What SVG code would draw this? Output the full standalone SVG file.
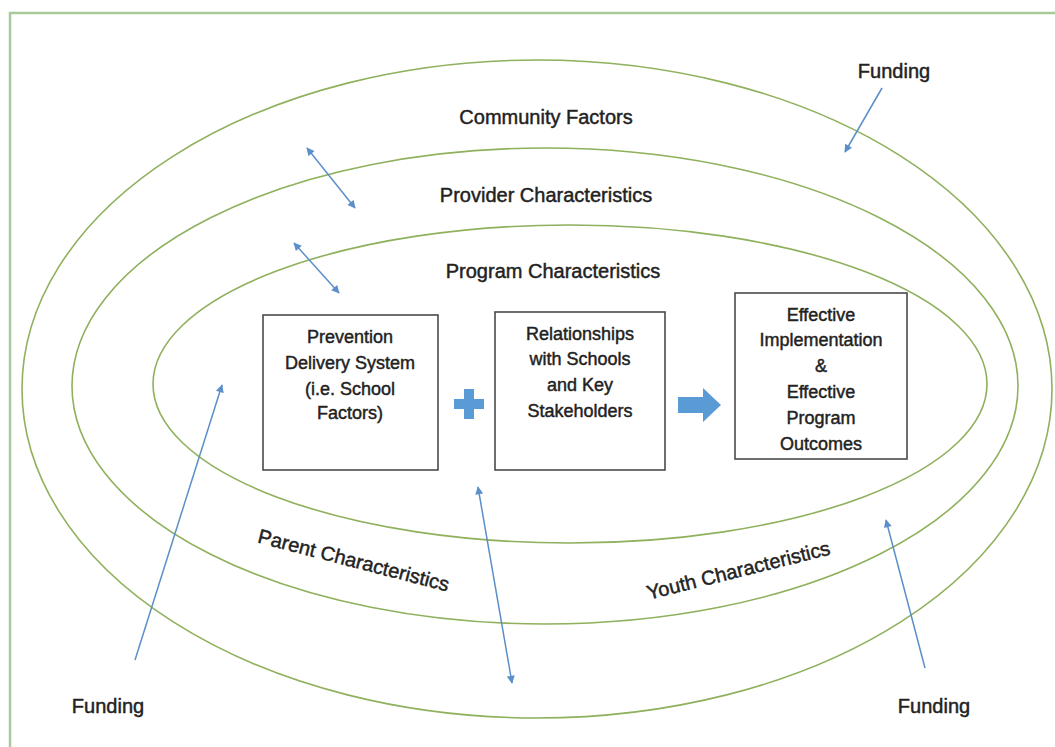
<svg xmlns="http://www.w3.org/2000/svg" width="1055" height="747" viewBox="0 0 1055 747">
<defs>
<style>
.ring{fill:none;stroke:#8fb05c;stroke-width:1.6}
.box{fill:#fff;stroke:#4a4a4a;stroke-width:1.6}
.lbl{font-family:"Liberation Sans",Arial,sans-serif;fill:#222;stroke:#222;stroke-width:0.45;text-anchor:middle}
.big{font-size:20px}
.bx{font-size:18px}
.conn{stroke:#5b8fc9;stroke-width:1.5;fill:none}
.blue{fill:#5b9bd5}
</style>
<marker id="ah" viewBox="0 0 10 10" refX="9" refY="5" markerWidth="9" markerHeight="8" orient="auto-start-reverse" markerUnits="userSpaceOnUse">
<path d="M0,0 L10,5 L0,10 z" fill="#5b8fc9"/>
</marker>
</defs>
<rect width="1055" height="747" fill="#fff"/>
<g id="frame">
<path d="M10,747 V13 H1055" fill="none" stroke="#a9c99b" stroke-width="2.5"/>
</g>
<g id="rings">
<ellipse id="community" class="ring" cx="537" cy="389" rx="515" ry="329"/>
<ellipse id="provider" class="ring" cx="545" cy="386" rx="473" ry="238"/>
<ellipse id="program" class="ring" cx="570" cy="384" rx="417" ry="159"/>
</g>
<g id="ring-labels">
<text class="lbl big" x="546" y="124">Community Factors</text>
<text class="lbl big" x="546" y="202">Provider Characteristics</text>
<text class="lbl big" x="553" y="278">Program Characteristics</text>
<text class="lbl big" transform="translate(352,567) rotate(14.5)">Parent Characteristics</text>
<text class="lbl big" transform="translate(740,577) rotate(-14)">Youth Characteristics</text>
</g>
<g id="funding-labels">
<text class="lbl big" x="894" y="78">Funding</text>
<text class="lbl big" x="108" y="713">Funding</text>
<text class="lbl big" x="934" y="713">Funding</text>
</g>
<g id="node-prevention">
<rect class="box" x="263" y="315" width="175" height="155"/>
<text class="lbl bx" x="350" y="343">Prevention</text>
<text class="lbl bx" x="350" y="369">Delivery System</text>
<text class="lbl bx" x="350" y="395">(i.e. School</text>
<text class="lbl bx" x="350" y="419">Factors)</text>
</g>
<g id="node-relationships">
<rect class="box" x="495" y="312" width="170" height="158"/>
<text class="lbl bx" x="580" y="340">Relationships</text>
<text class="lbl bx" x="580" y="365">with Schools</text>
<text class="lbl bx" x="580" y="391">and Key</text>
<text class="lbl bx" x="580" y="417">Stakeholders</text>
</g>
<g id="node-outcomes">
<rect class="box" x="735" y="293" width="172" height="166"/>
<text class="lbl bx" x="821" y="321">Effective</text>
<text class="lbl bx" x="821" y="346">Implementation</text>
<text class="lbl bx" x="821" y="372">&amp;</text>
<text class="lbl bx" x="821" y="398">Effective</text>
<text class="lbl bx" x="821" y="424">Program</text>
<text class="lbl bx" x="821" y="450">Outcomes</text>
</g>
<g id="operators">
<path class="blue" d="M464,389 h10 v10 h10 v10 h-10 v10 h-10 v-10 h-10 v-10 h10 z"/>
<path class="blue" d="M678,397 h25 v-9 l18,17 l-18,17 v-9 h-25 z"/>
</g>
<g id="connectors">
<line class="conn" x1="882" y1="88" x2="845" y2="152" marker-end="url(#ah)"/>
<line class="conn" x1="307" y1="148" x2="355" y2="208" marker-start="url(#ah)" marker-end="url(#ah)"/>
<line class="conn" x1="294" y1="243" x2="339" y2="293" marker-start="url(#ah)" marker-end="url(#ah)"/>
<line class="conn" x1="135" y1="660" x2="222" y2="385" marker-end="url(#ah)"/>
<line class="conn" x1="478" y1="487" x2="512" y2="683" marker-start="url(#ah)" marker-end="url(#ah)"/>
<line class="conn" x1="925" y1="668" x2="886" y2="520" marker-end="url(#ah)"/>
</g>
</svg>
